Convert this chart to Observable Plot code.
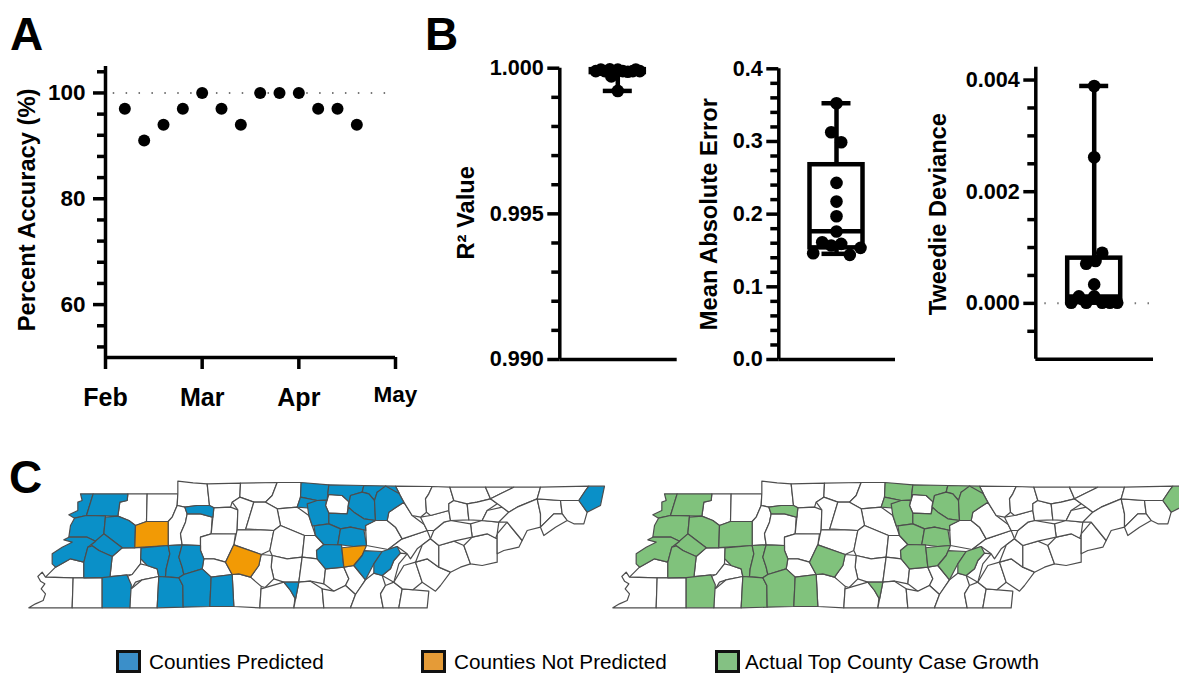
<!DOCTYPE html>
<html><head><meta charset="utf-8">
<script src="https://cdn.jsdelivr.net/npm/d3@7"></script>
<script src="https://cdn.jsdelivr.net/npm/@observablehq/plot@0.6"></script>
<style>
html,body{margin:0;padding:0;background:#fff;overflow:hidden}
#page{position:relative;width:1179px;height:673px;font-family:"Liberation Sans",Arial,sans-serif;color:#000}
#page svg{position:absolute;background:transparent;max-width:none;overflow:visible}
.letter{position:absolute;font-weight:bold;font-size:46px;line-height:46px}
.sw{position:absolute;top:650px;width:19px;height:17px;border:3px solid #111}
.lt{position:absolute;top:650px;font-size:20.7px;line-height:23px;white-space:nowrap}
</style></head><body><div id="page"></div>
<script>
// Panel A
const accuracyWeeks = [1,2,3,4,5,6,7,8,9,10,11,12,13];
const accuracyValues = [97,91,94,97,100,97,94,100,100,100,97,97,94];
const monthTicks = [0,5,10];
const monthLabels = ["Feb","Mar","Apr"];
const lastMonthTick = 15, lastMonthLabel = "May";
// Panel B
const r2Values = [0.99990,0.99995,0.99990,0.99996,0.99990,0.99972,0.99995,0.99990,0.99988,0.99990,0.99995,0.99990,0.99922];
const r2Offsets = [-22,-17,-13,-8,-4,-6.5,0,5,10,15,18,22,0];
const r2Box = {min:0.99922,q1:0.99985,median:0.99990,q3:0.99995,max:0.99997};
const maeValues = [0.3526,0.3127,0.2990,0.2430,0.2173,0.1972,0.1761,0.1614,0.1591,0.1536,0.1463,0.1440,0.1568];
const maeOffsets = [0,-5.3,4.7,0,0,0,0,-14.3,4.7,24,-23.3,13.3,-5.3];
const maeBox = {min:0.1454,q1:0.1536,median:0.1765,q3:0.268,max:0.3526};
const tweedieValues = [0.003894,0.002618,0.000906,0.000758,0.000709,0.000340,0.000125,0.000125,0.000012,0.000012,0.000012,0.000012,0.000012];
const tweedieOffsets = [0,0,8,1.3,-8,0,-15.3,0,-23,-8,8,15.7,23];
const tweedieBox = {min:0.000012,q1:0.000012,median:0.000125,q3:0.00081,max:0.003894};
// Panel C : county outlines (map units, lists west / east part)
const westCounties = [
["Lake","240,130 278,130 258,195 222,203 205,193 232,180 238,170 232,155 245,150"],
["Obion","278,130 382,130 380,150 358,155 352,197 258,197"],
["Weakley","382,130 440,130 438,213 405,225 385,210 355,195 358,155 380,152"],
["Henry","440,130 532,130 530,165 515,200 503,213 440,213"],
["Stewart","532,92 578,97 620,100 627,165 590,165 553,170 540,165 530,165 537,120"],
["Montgomery","620,100 720,98 718,140 695,155 690,170 640,172 627,165"],
["Robertson","720,98 830,96 815,135 795,155 760,155 725,145 718,140"],
["Sumner","830,96 902,96 900,140 890,170 830,175 800,160 815,135"],
["Wilson","830,175 890,170 925,195 945,255 912,255 840,225"],
["Houston","553,170 590,165 627,165 640,172 635,200 600,190 560,190"],
["Humphreys","530,165 553,170 560,190 555,215 540,250 545,283 503,285 503,213 515,200"],
["Dickson","560,190 600,190 635,200 632,250 600,260 600,285 545,283 540,250 555,215"],
["Cheatham","640,172 690,170 712,178 710,238 705,250 635,250"],
["Davidson","712,178 695,155 725,145 760,155 735,235 710,238"],
["Trousdale2","760,155 795,155 830,175 840,225 820,240 780,238 735,235"],
["Rutherford","705,240 780,238 820,240 808,300 782,312 700,283"],
["Williamson","600,260 635,250 705,250 700,283 675,335 640,325 610,325 600,300"],
["Maury","610,330 640,325 675,335 695,372 632,380 605,355"],
["Bedford","700,283 782,312 775,345 750,380 715,370 695,372 675,335"],
["Warren2","820,240 840,225 912,255 905,320 860,325 815,315 808,300"],
["Coffee","815,318 860,325 905,322 895,395 850,395 820,385 812,350"],
["Moore","782,312 815,318 812,350 820,385 795,415 770,405 750,380 775,345"],
["Franklin","838,393 855,400 893,385 893,400 880,445 870,420"],
["Dyer","222,203 258,197 315,200 310,250 285,272 260,260 205,260 210,225"],
["Gibson","315,200 352,197 385,210 405,225 403,292 365,292 318,250 310,245"],
["Crockett","310,250 318,250 365,292 335,318 295,300 275,288 285,272"],
["Lauderdale","205,260 190,268 215,275 185,290 155,310 155,340 165,350 210,325 250,335 262,290 285,272 260,260"],
["Haywood","275,288 295,300 332,318 328,378 250,382 250,335 262,290"],
["Madison","335,318 365,292 422,292 420,340 395,372 330,378"],
["Carroll","405,225 440,213 503,213 503,285 403,292"],
["Henderson","425,290 503,288 508,310 497,355 495,378 475,378 470,355 440,345 425,325"],
["Decatur","510,283 548,283 535,320 545,350 550,372 535,382 500,380 497,350 508,310"],
["Perry","548,283 600,283 600,305 615,335 605,355 555,372 545,350 535,320"],
["Tipton","165,350 210,325 250,335 250,380 218,382 165,380 135,380 150,365"],
["Shelby","135,380 218,384 215,472 85,472 85,462 105,460 128,450 135,430 122,415 133,400 120,392 112,378 125,365"],
["Fayette","218,382 305,382 305,472 218,472"],
["Hardeman","308,378 380,378 388,405 388,472 305,472"],
["Chester","420,340 440,345 470,355 472,385 425,388 405,395 400,418 380,380 395,372"],
["McNairy","388,405 400,418 425,388 470,385 470,472 388,472"],
["Hardin","472,380 535,382 547,405 548,470 470,472"],
["Wayne","547,378 610,365 630,385 628,468 548,470 547,405 538,382"],
["Lawrence","630,382 695,372 702,380 700,468 628,468"],
["Giles","702,378 715,372 750,380 780,415 778,472 700,472"],
["Lincoln","780,415 838,393 870,420 880,445 880,472 778,472"]
];
const eastCounties = [
["Macon","3,40 85,43 78,88 50,90 5,75"],
["Trousdale","0,80 50,90 25,112 -10,108"],
["Clay","85,45 190,45 185,65 150,75 143,95 125,75 85,72"],
["Jackson","85,72 125,75 143,95 140,130 85,128 75,105"],
["Pickett","190,45 285,47 295,70 255,55 230,65 222,90 205,70 185,65"],
["Overton","150,75 185,65 205,72 222,95 225,150 190,145 160,125 145,110"],
["Fentress","230,65 255,55 285,65 310,95 280,105 265,125 260,150 228,150 222,95"],
["Smith","20,100 50,90 78,90 75,105 85,128 85,160 40,165 25,135"],
["Putnam","85,128 140,130 145,110 160,125 190,145 225,155 195,165 190,180 150,170 120,175 112,180 85,160"],
["DeKalb","40,165 85,160 110,178 112,222 70,222 50,200"],
["White","120,175 150,170 190,180 198,225 160,228 120,230 112,222"],
["Cumberland","195,165 225,155 262,152 285,170 305,205 262,235 200,235"],
["Warren","70,225 122,232 130,290 75,295 50,265 48,240"],
["VanBuren","122,232 160,230 190,230 185,255 160,285 132,290"],
["Sequatchie","190,240 245,243 220,280 195,328 165,290 185,260"],
["Bledsoe","245,243 290,228 300,248 280,270 270,295 245,315 220,308 222,285"],
["Cannon","12,195 40,195 65,222 48,240 48,262 5,260"],
["Grundy","5,262 48,262 70,298 70,340 30,332 -5,335"],
["Marion","-7,340 30,332 65,355 70,412 -12,412"],
["Hamilton1","70,298 130,292 145,325 135,345 100,362 70,340"],
["Rhea1","135,295 165,290 195,328 165,372 145,345 145,325"],
["Polk1","70,355 100,362 135,345 145,345 165,372 150,412 70,412"],
["Bradley","165,372 195,328 220,312 245,318 255,345 240,370 248,412 150,415"],
["McMinn","255,345 280,335 305,355 295,412 248,412 240,370"],
["Polk","305,355 385,362 380,412 295,412"],
["Monroe","270,340 310,285 345,275 365,335 338,350 305,352 280,335"],
["Meigs","320,250 295,280 270,340 245,315 270,295 285,265 300,248"],
["Blount","345,275 340,265 380,265 415,290 450,305 420,345 405,362 365,345 365,335"],
["Roane","262,235 305,205 380,180 390,205 350,235 330,265 320,250 290,228"],
["Morgan","265,125 300,100 335,135 365,165 380,180 305,205 285,170 262,152"],
["Loudon","370,230 392,205 415,225 420,280 415,290 380,265 340,265"],
["Sevier1","415,225 460,212 490,225 510,280 480,290 450,305 420,280"],
["Sevier2","490,225 515,200 560,190 585,205 590,275 545,285 510,285"],
["Cocke","590,190 620,155 665,210 655,230 610,240 590,250"],
["Jefferson","510,160 545,150 595,155 590,190 585,205 560,190 515,190"],
["Knox","400,180 430,155 450,150 505,150 510,165 515,195 460,212 415,225 390,205"],
["Anderson","360,140 390,135 445,120 450,150 425,155 400,180 380,180"],
["Scott","310,95 295,48 395,48 385,70 375,85 378,125 360,140 335,130"],
["Campbell","395,48 448,50 460,90 445,100 445,120 390,135 378,125 375,85 385,70"],
["Union","460,90 500,100 505,148 450,148 445,120 445,100"],
["Claiborne","448,50 555,50 570,85 530,95 500,100 460,90"],
["Grainger","500,100 530,95 570,85 590,100 560,120 540,150 505,148"],
["Hamblen","540,150 560,130 605,110 625,125 600,150 545,150"],
["Hancock","555,50 640,50 600,70 575,95 570,85"],
["Hawkins","640,50 720,50 710,85 650,110 620,125 605,110 575,95 600,70"],
["Greene","625,125 650,110 710,85 720,130 720,170 680,180 665,210 620,155 600,150"],
["Washington","720,85 780,90 785,130 760,130 720,160 718,130"],
["Sullivan","720,50 865,47 855,60 835,90 790,95 780,90 720,85"],
["Carter","835,90 860,125 850,160 820,160 800,150 785,130 790,95"],
["Unicoi","720,170 760,135 785,130 800,150 765,170 730,195 720,195"],
["Johnson","865,47 912,47 900,105 860,125 835,95 855,60"]
];
const eastShift = [900,60];
const predictedCounties = ["Lake","Obion","Houston","Dyer","Gibson","Crockett","Lauderdale","Haywood","Henderson","Decatur","Perry","Hardeman","Hardin","Wayne","Lawrence","Franklin","Macon","Trousdale","Clay","Pickett","Overton","Fentress","Smith","Putnam","DeKalb","White","Warren","Sequatchie","Bledsoe","Johnson"];
const notPredictedCounties = ["Carroll","Bedford","VanBuren"];
const legendLabels = ["Counties Predicted","Counties Not Predicted","Actual Top County Case Growth"];
const legendColors = ["#3b8fc9","#e59b37","#84c183"];
const mapColors = ["#0a90c8","#f29a05","#80c27c","#ffffff"];
const rightMapShift = 584;

const FONT = '"Liberation Sans",Arial,sans-serif';
const page = document.getElementById("page");
const place = (svg,left,top)=>{svg.style.left=left+"px";svg.style.top=top+"px";page.appendChild(svg);};
const BLACK = "#000", AXW = 3.5;

function yAxisMarks({major,minor,fmt,fontSize=22,padding=4}) {
  return [
    Plot.axisY({ticks:minor,tickSize:8,strokeWidth:AXW,tickFormat:()=>"",label:null}),
    Plot.axisY({ticks:major,tickSize:12,strokeWidth:AXW,tickPadding:padding,tickFormat:fmt,fontSize,fontWeight:"bold",label:null})
  ];
}
const yTitle = (t,dx,dy=0,fontSize=23.7)=>Plot.text([t],{text:d=>d,frameAnchor:"left",textAnchor:"middle",rotate:-90,dx,dy,fontSize,fontWeight:"bold",fill:BLACK});

// ---------- Panel A
{
  const rows = accuracyWeeks.map((w,i)=>({w,v:accuracyValues[i]}));
  const major=[60,80,100], minor=[52,56,64,68,72,76,84,88,92,96,104];
  const svg = Plot.plot({
    width:430,height:420,marginLeft:105,marginRight:35,marginTop:66,marginBottom:63,
    style:{fontFamily:FONT,background:"transparent"},
    x:{domain:[0,15],axis:null},y:{domain:[50,105]},
    marks:[
      ...yAxisMarks({major,minor,fmt:d=>d,fontSize:22.5,padding:8}),
      Plot.axisX({ticks:monthTicks,tickSize:12,strokeWidth:AXW,tickPadding:19,tickFormat:d=>monthLabels[monthTicks.indexOf(d)],fontSize:25,fontWeight:"bold",label:null,anchor:"bottom"}),
      Plot.axisX({ticks:[lastMonthTick],tickSize:12,strokeWidth:AXW,tickPadding:17,tickFormat:()=>lastMonthLabel,fontSize:22.5,fontWeight:"bold",label:null,anchor:"bottom"}),
      Plot.ruleX([0],{y1:50,y2:105,stroke:BLACK,strokeWidth:AXW}),
      Plot.ruleY([50],{x1:0,x2:15,stroke:BLACK,strokeWidth:AXW}),
      Plot.ruleY([100],{x1:0.4,x2:14.85,stroke:"#777",strokeWidth:2,strokeDasharray:"1.5,11.4"}),
      Plot.dot(rows,{x:"w",y:"v",r:6,fill:BLACK}),
      yTitle("Percent Accuracy (%)",-78,-2)
    ]
  });
  place(svg,0,0);
}

// ---------- Panel B
function boxPanel({left,width,axisX,endX,centerX,yTop,yBottom,domain,major,minor,fmt,values,offsets,box,title,titleDx,titleDy=0,boxW=53,capW=29,zeroLine=null}) {
  const H=400;
  const rows = values.map((v,i)=>({v,o:offsets[i]}));
  const x0 = axisX-centerX, x1 = endX-centerX;
  const svg = Plot.plot({
    width,height:H,marginLeft:axisX-left,marginRight:left+width-endX,marginTop:yTop,marginBottom:H-yBottom,
    style:{fontFamily:FONT,background:"transparent"},
    x:{domain:[x0,x1],axis:null},y:{domain},
    marks:[
      ...yAxisMarks({major,minor,fmt,fontSize:21.6}),
      Plot.ruleX([x0],{y1:domain[0],y2:domain[1],stroke:BLACK,strokeWidth:AXW}),
      Plot.ruleY([domain[0]],{x1:x0,x2:x1,stroke:BLACK,strokeWidth:AXW}),
      zeroLine===null?null:Plot.ruleY([zeroLine],{x1:x0+9,x2:x1-3,stroke:"#777",strokeWidth:2,strokeDasharray:"1.5,11.4"}),
      Plot.ruleX([0],{y1:box.q3,y2:box.max,stroke:BLACK,strokeWidth:4.5}),
      Plot.ruleX([0],{y1:box.min,y2:box.q1,stroke:BLACK,strokeWidth:4.5}),
      Plot.ruleY([box.max,box.min],{x1:-capW/2,x2:capW/2,stroke:BLACK,strokeWidth:4.5}),
      Plot.rect([box],{x1:-boxW/2,x2:boxW/2,y1:"q1",y2:"q3",stroke:BLACK,strokeWidth:4.5,fill:"none"}),
      Plot.ruleY([box.median],{x1:-boxW/2,x2:boxW/2,stroke:BLACK,strokeWidth:4.5}),
      Plot.dot(rows,{x:"o",y:"v",r:6.3,fill:BLACK}),
      yTitle(title,titleDx,titleDy)
    ]
  });
  place(svg,left,0);
}
boxPanel({left:455,width:230,axisX:559.3,endX:676.7,centerX:617.3,yTop:67.7,yBottom:359,domain:[0.99,1],
  major:[0.99,0.995,1],minor:d3.range(1,10).filter(i=>i!==5).map(i=>0.99+i*0.001),fmt:d3.format(".3f"),
  values:r2Values,offsets:r2Offsets,box:r2Box,title:"R² Value",titleDx:-93.3,titleDy:-1});
boxPanel({left:690,width:215,axisX:778.3,endX:895,centerX:836,yTop:68.3,yBottom:359,domain:[0,0.4],
  major:[0,0.1,0.2,0.3,0.4],minor:d3.range(1,20).filter(i=>i%5!==0).map(i=>i*0.02),fmt:d3.format(".1f"),
  values:maeValues,offsets:maeOffsets,box:maeBox,title:"Mean Absolute Error",titleDx:-69.3,titleDy:0});
boxPanel({left:925,width:240,axisX:1035.3,endX:1153,centerX:1093.7,yTop:66.7,yBottom:358.7,domain:[-0.001,0.00423],
  major:[0,0.002,0.004],minor:[-0.0005,0.0005,0.001,0.0015,0.0025,0.003,0.0035],fmt:d3.format(".3f"),
  values:tweedieValues,offsets:tweedieOffsets,box:tweedieBox,title:"Tweedie Deviance",titleDx:-97.3,titleDy:1,zeroLine:0});

// ---------- Panel C
{
  const parse=(list,sx,sy)=>list.map(([name,s])=>({name,pts:s.split(" ").map(p=>{const [a,b]=p.split(",").map(Number);return [a+sx,b+sy];})}));
  const polys=[...parse(westCounties,0,0),...parse(eastCounties,eastShift[0],eastShift[1])];
  // shared borders: neighbouring outlines read separately are merged where their vertices nearly meet
  const centres=[];
  const snapTo=(p,tol)=>{for(const c of centres){if(Math.hypot(c[0]-p[0],c[1]-p[1])<tol)return c;}centres.push(p);return p;};
  polys.forEach(poly=>{poly.pts=poly.pts.map(p=>snapTo(p,13));});
  polys.forEach(poly=>{
    poly.pts=poly.pts.map(p=>{
      let best=null,bd=9;
      for(const o of polys){ if(o===poly)continue;
        for(let i=0;i<o.pts.length;i++){
          const a=o.pts[i],b=o.pts[(i+1)%o.pts.length];
          const dx=b[0]-a[0],dy=b[1]-a[1],l=dx*dx+dy*dy; if(!l)continue;
          const t=((p[0]-a[0])*dx+(p[1]-a[1])*dy)/l;
          if(t<=0.02||t>=0.98)continue;
          const q=[a[0]+t*dx,a[1]+t*dy],d=Math.hypot(q[0]-p[0],q[1]-p[1]);
          if(d<bd&&d>0){bd=d;best=q;}
        }}
      return best||p;
    });
  });
  const pts=polys.flatMap(poly=>poly.pts.map(([mx,my])=>({name:poly.name,mx,my})));
  const statusLeft=n=>predictedCounties.includes(n)?"predicted":notPredictedCounties.includes(n)?"notPredicted":"none";
  const statusRight=n=>(predictedCounties.includes(n)||notPredictedCounties.includes(n))?"actual":"none";
  const common={x:"mx",y:"my",z:"name",curve:"linear-closed",stroke:"#4d4d4d",strokeWidth:1.2,strokeLinejoin:"round"};
  const order=(f)=>[...pts].sort((a,b)=>(f(a.name)!=="none")-(f(b.name)!=="none"));
  const svg=Plot.plot({
    width:1179,height:170,margin:0,
    style:{fontFamily:FONT,background:"transparent"},
    x:{domain:[0,3537],range:[0,1179],axis:null},
    y:{domain:[0,510],range:[0,170],axis:null},
    color:{domain:["predicted","notPredicted","actual","none"],range:mapColors},
    marks:[
      Plot.line(order(statusLeft),{...common,fill:d=>statusLeft(d.name)}),
      Plot.line(order(statusRight),{...common,fill:d=>statusRight(d.name),dx:rightMapShift})
    ]
  });
  svg.style.overflow="hidden";
  place(svg,0,450);
}

// ---------- Letters and legend
[["A",10,11],["B",425,11],["C",9,454]].forEach(([t,x,y])=>{
  const d=document.createElement("div");d.className="letter";d.textContent=t;d.style.left=x+"px";d.style.top=y+"px";page.appendChild(d);
});
const swatchX=[116,421,715], textX=[149,454,745];
legendLabels.forEach((t,i)=>{
  const s=document.createElement("div");s.className="sw";s.style.left=swatchX[i]+"px";s.style.background=legendColors[i];page.appendChild(s);
  const l=document.createElement("div");l.className="lt";l.textContent=t;l.style.left=textX[i]+"px";page.appendChild(l);
});
</script></body></html>
